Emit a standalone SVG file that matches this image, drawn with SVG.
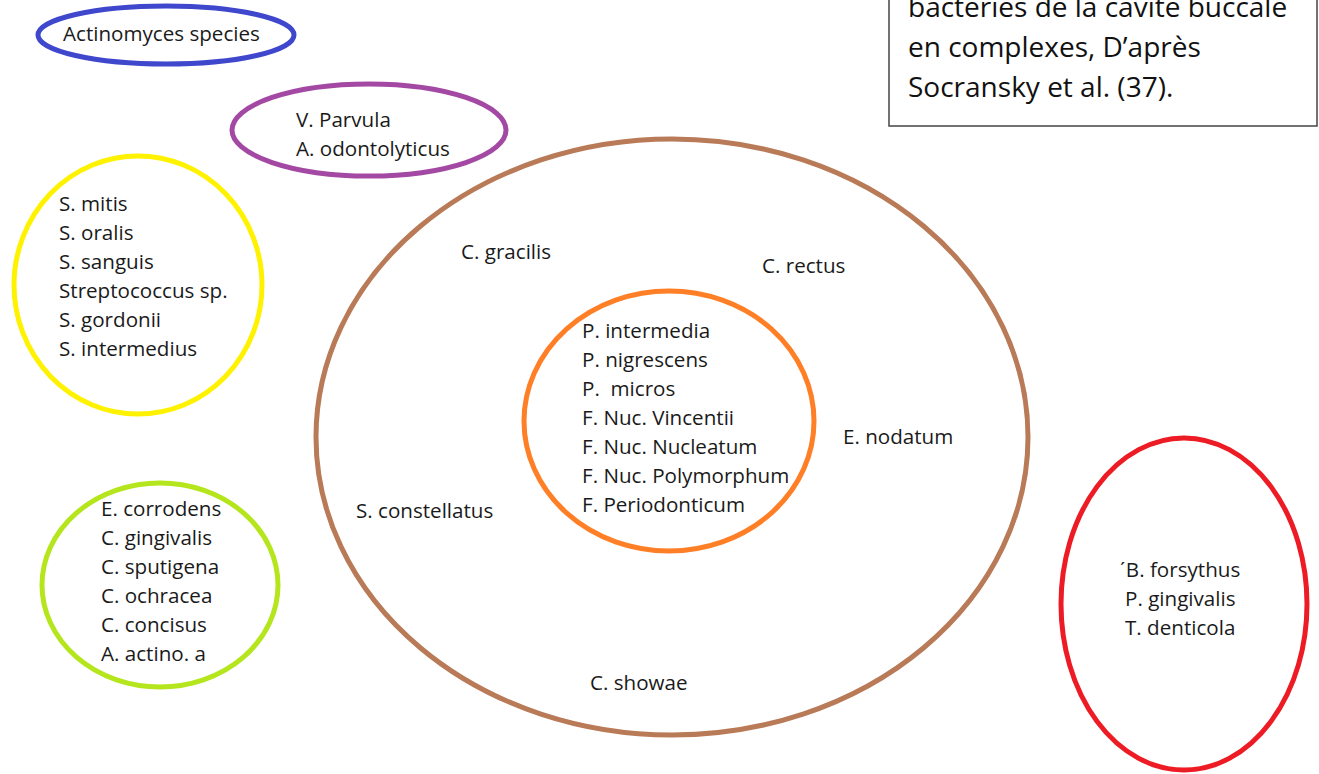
<svg xmlns="http://www.w3.org/2000/svg" width="1319" height="774" viewBox="0 0 1319 774">
<style>
.e{fill:none;stroke-width:5}
text{font-family:"Open Sans","Liberation Sans",sans-serif;font-size:20.6px;fill:#1a1a1a}
.b{font-size:28px;fill:#111}
</style>
<rect width="1319" height="774" fill="#fff"/>
<g id="caption">
<rect x="889" y="-5" width="428" height="131" fill="#fff" stroke="#444" stroke-width="1.5"/>
<text class="b" x="908" y="17">bactéries de la cavité buccale</text>
<text class="b" x="908" y="57">en complexes, D’après</text>
<text class="b" x="908" y="97">Socransky et al. (37).</text>
</g>
<g id="blue">
<ellipse class="e" cx="166" cy="35" rx="128" ry="29" stroke="#3F48CC"/>
<text x="63" y="41">Actinomyces species</text>
</g>
<g id="purple">
<ellipse class="e" cx="369" cy="130" rx="137" ry="46" stroke="#A349A4"/>
<text x="296" y="127">V. Parvula</text>
<text x="296" y="156">A. odontolyticus</text>
</g>
<g id="yellow">
<ellipse class="e" cx="138" cy="285" rx="124" ry="129" stroke="#FFF200"/>
<text x="59" y="211">S. mitis</text>
<text x="59" y="240">S. oralis</text>
<text x="59" y="269">S. sanguis</text>
<text x="59" y="298">Streptococcus sp.</text>
<text x="59" y="327">S. gordonii</text>
<text x="59" y="356">S. intermedius</text>
</g>
<g id="green">
<ellipse class="e" cx="160" cy="585" rx="118" ry="102" stroke="#B5E61D"/>
<text x="101" y="516">E. corrodens</text>
<text x="101" y="545">C. gingivalis</text>
<text x="101" y="574">C. sputigena</text>
<text x="101" y="603">C. ochracea</text>
<text x="101" y="632">C. concisus</text>
<text x="101" y="661">A. actino. a</text>
</g>
<g id="brown">
<ellipse class="e" cx="672" cy="437" rx="356" ry="298" stroke="#B97A57"/>
<text x="461" y="259">C. gracilis</text>
<text x="762" y="273">C. rectus</text>
<text x="843" y="444">E. nodatum</text>
<text x="356" y="518">S. constellatus</text>
<text x="590" y="690">C. showae</text>
</g>
<g id="orange">
<ellipse class="e" cx="669" cy="421" rx="145" ry="130" stroke="#FF7F27"/>
<text x="582" y="338">P. intermedia</text>
<text x="582" y="367">P. nigrescens</text>
<text x="582" y="396" xml:space="preserve">P.  micros</text>
<text x="582" y="425">F. Nuc. Vincentii</text>
<text x="582" y="454">F. Nuc. Nucleatum</text>
<text x="582" y="483">F. Nuc. Polymorphum</text>
<text x="582" y="512">F. Periodonticum</text>
</g>
<g id="red">
<ellipse class="e" cx="1184" cy="604" rx="123" ry="166" stroke="#ED1C24"/>
<text x="1119" y="577">ˊB. forsythus</text>
<text x="1125" y="606">P. gingivalis</text>
<text x="1125" y="635">T. denticola</text>
</g>
<g id="connectors"/>
</svg>
